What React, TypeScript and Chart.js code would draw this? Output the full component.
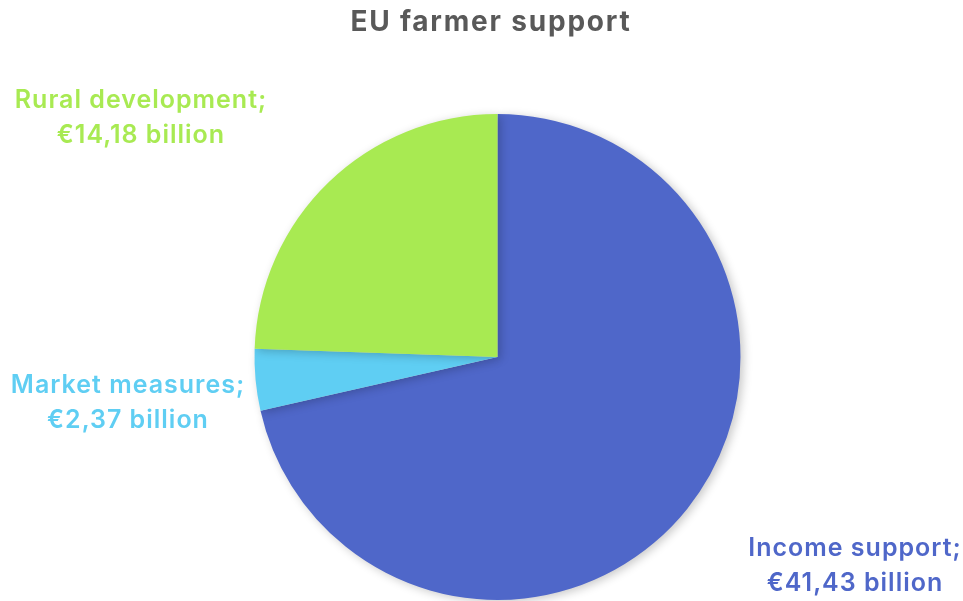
import React, { useEffect, useRef } from "react";
import { Chart, registerables } from "chart.js";

Chart.register(...registerables);

const categories = ["Income support", "Market measures", "Rural development"];
const values = [41.43, 2.37, 14.18];
const valueLabels = ["€41,43 billion", "€2,37 billion", "€14,18 billion"];
const colors = ["#4F67C9", "#5FCEF3", "#A8EA52"];
const titleText = "EU farmer support";

const FONT = "Inter, 'Noto Sans', sans-serif";

// label anchor positions (layout only)
const labelPos = [
  { x: 855, y: 548 },
  { x: 128, y: 385 },
  { x: 141, y: 100 },
];

const shadowPlugin = {
  id: "shadowPlugin",
  beforeDatasetsDraw(chart: any) {
    const ctx = chart.ctx;
    ctx.save();
    ctx.shadowColor = "rgba(0,0,0,0.22)";
    ctx.shadowBlur = 10;
    ctx.shadowOffsetX = 3;
    ctx.shadowOffsetY = 2;
  },
  afterDatasetsDraw(chart: any) {
    chart.ctx.restore();
  },
};

const labelPlugin = {
  id: "labelPlugin",
  afterDraw(chart: any) {
    const ctx = chart.ctx;
    ctx.save();
    ctx.textAlign = "center";
    ctx.textBaseline = "middle";
    ctx.fillStyle = "#595959";
    ctx.font = `700 28px ${FONT}`;
    (ctx as any).letterSpacing = "1.8px";
    ctx.fillText(titleText, 491, 23);
    (ctx as any).letterSpacing = "1px";
    const labels = chart.data.labels as string[];
    labels.forEach((lab, i) => {
      const p = labelPos[i];
      ctx.fillStyle = colors[i];
      ctx.font = `600 25px ${FONT}`;
      ctx.fillText(lab + ";", p.x, p.y);
      ctx.fillText(valueLabels[i], p.x, p.y + 35);
    });
    ctx.restore();
  },
};

export default function App() {
  const ref = useRef<HTMLCanvasElement>(null);
  useEffect(() => {
    document.body.style.margin = "0";
    const chart = new Chart(ref.current!, {
      type: "pie",
      data: {
        labels: categories,
        datasets: [
          {
            data: values,
            backgroundColor: colors,
            borderWidth: 0,
          },
        ],
      },
      options: {
        animation: false,
        responsive: false,
        layout: { padding: { left: 254, right: 222, top: 114, bottom: 1 } },
        plugins: {
          legend: { display: false },
          title: { display: false },
          tooltip: { enabled: false },
        },
      },
      plugins: [shadowPlugin, labelPlugin],
    });
    return () => chart.destroy();
  }, []);
  return (
    <div style={{ width: 963, height: 601, background: "#fff" }}>
      <canvas ref={ref} width={963} height={601} />
    </div>
  );
}
